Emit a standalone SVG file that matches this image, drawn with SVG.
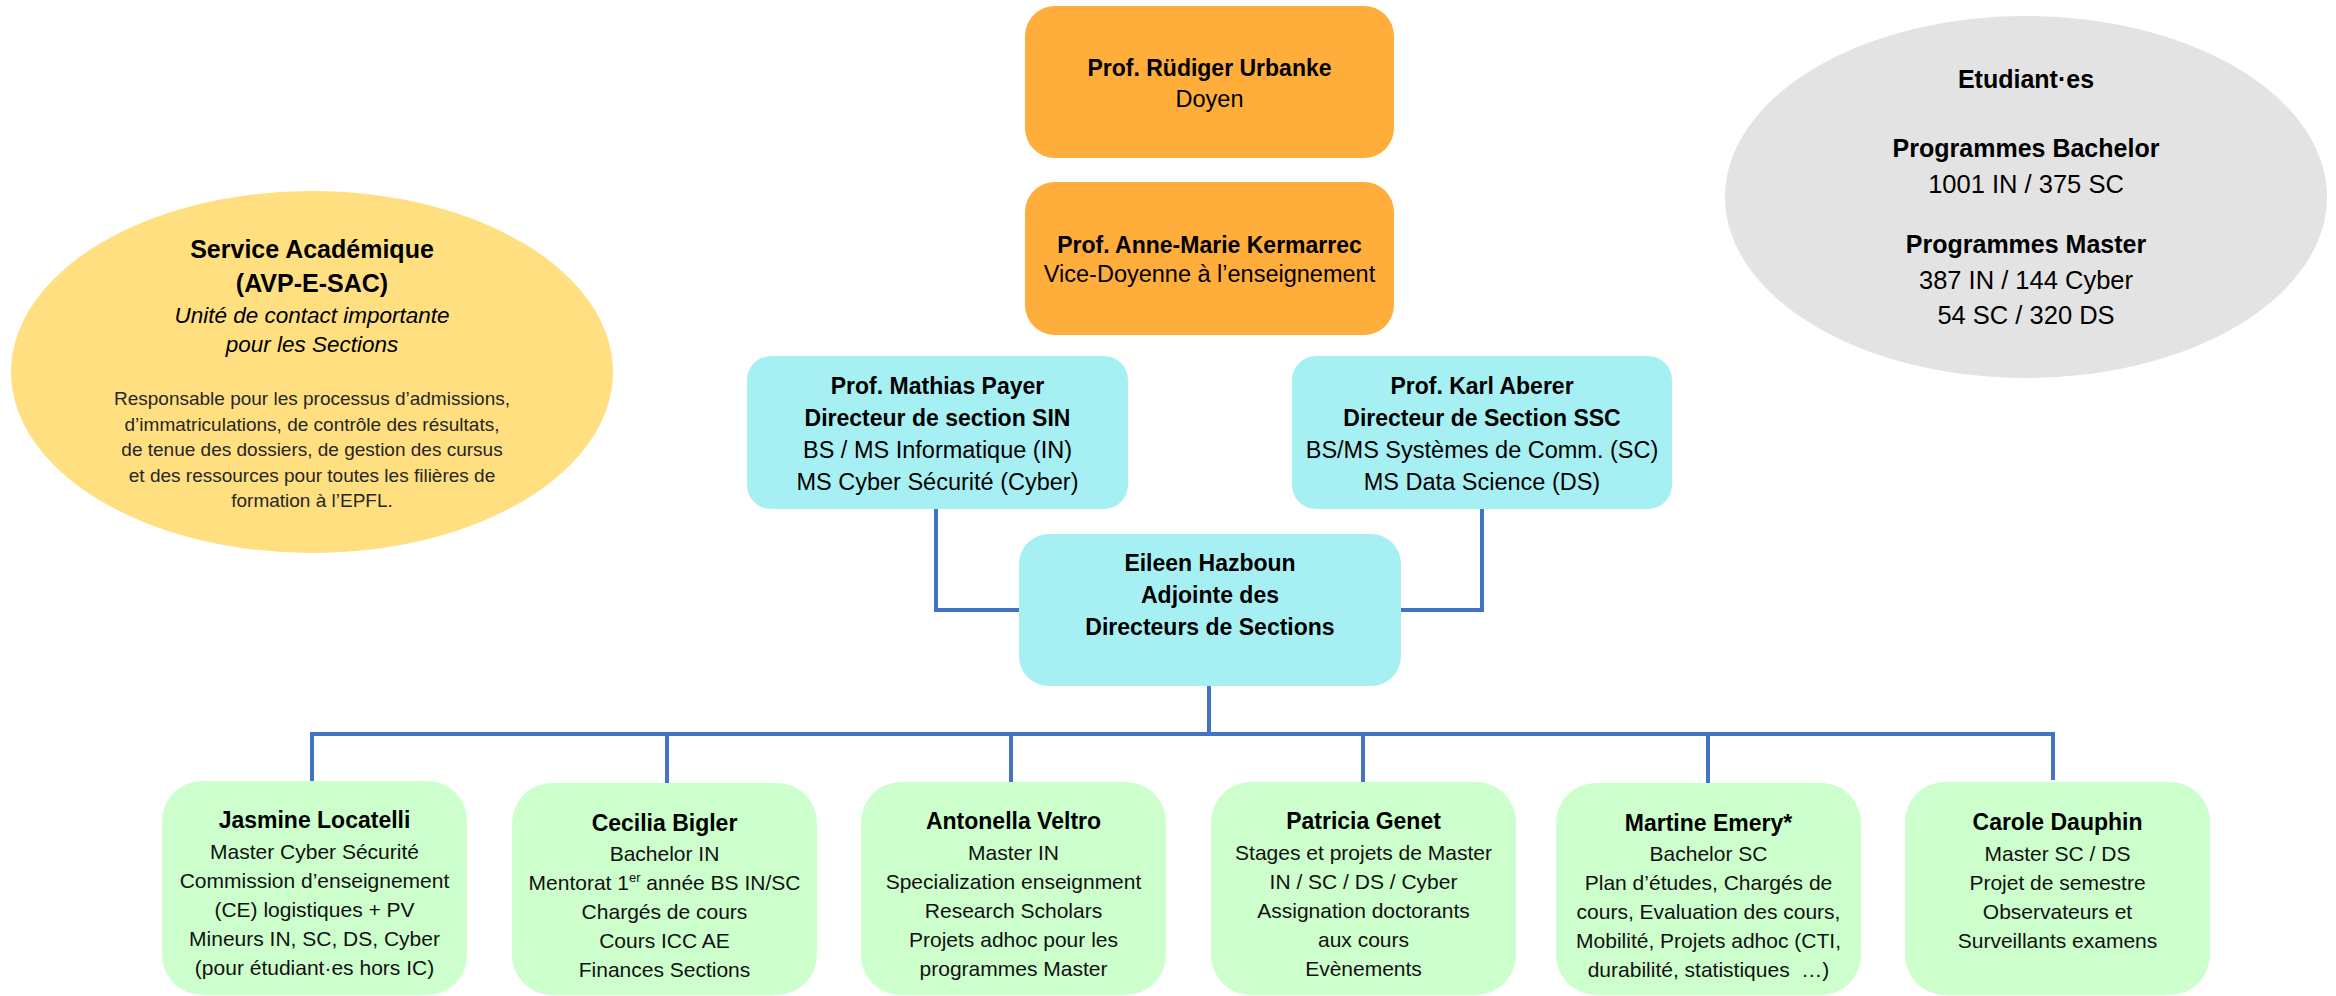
<svg xmlns="http://www.w3.org/2000/svg" width="2336" height="996" viewBox="0 0 2336 996">
<style>
text{font-family:"Liberation Sans",Arial,sans-serif;text-anchor:middle;fill:#000}
.top{font-size:23.5px}
.topb{font-size:23px;font-weight:bold}
.gb{font-size:23px;font-weight:bold}
.gt{font-size:21px;fill:#111}
.yb{font-size:25px;font-weight:bold}
.yi{font-size:22.5px;font-style:italic}
.ys{font-size:19px;fill:#262626}
.eb{font-size:25px;font-weight:bold}
.er{font-size:25.5px}
.org{fill:#FFAD3B}
.cyan{fill:#A6F0F4}
.grn{fill:#CCFFCC}
.conn{fill:none;stroke:#4472C4;stroke-width:4}
</style>
<rect width="2336" height="996" fill="#FFFFFF"/>

<g id="connectors">
<path class="conn" d="M936 509 V610 H1019"/>
<path class="conn" d="M1482 509 V610 H1401"/>
<path class="conn" d="M1209 686 V734"/>
<path class="conn" d="M312 781 V734 H2053 V780"/>
<path class="conn" d="M667 734 V783"/>
<path class="conn" d="M1011 734 V782"/>
<path class="conn" d="M1363 734 V782"/>
<path class="conn" d="M1708 734 V783"/>
</g>

<g id="service-academique">
<ellipse cx="312" cy="372" rx="301" ry="181" fill="#FFDF80"/>
<text class="yb" x="312" y="258">Service Académique</text>
<text class="yb" x="312" y="292">(AVP-E-SAC)</text>
<text class="yi" x="312" y="323">Unité de contact importante</text>
<text class="yi" x="312" y="352">pour les Sections</text>
<text class="ys" x="312" y="405">Responsable pour les processus d’admissions,</text>
<text class="ys" x="312" y="431">d’immatriculations, de contrôle des résultats,</text>
<text class="ys" x="312" y="456">de tenue des dossiers, de gestion des cursus</text>
<text class="ys" x="312" y="482">et des ressources pour toutes les filières de</text>
<text class="ys" x="312" y="507">formation à l’EPFL.</text>
</g>

<g id="etudiants">
<ellipse cx="2026" cy="197" rx="301" ry="181" fill="#E3E3E3"/>
<text class="eb" x="2026" y="88">Etudiant·es</text>
<text class="eb" x="2026" y="157">Programmes Bachelor</text>
<text class="er" x="2026" y="193">1001 IN / 375 SC</text>
<text class="eb" x="2026" y="253">Programmes Master</text>
<text class="er" x="2026" y="289">387 IN / 144 Cyber</text>
<text class="er" x="2026" y="324">54 SC / 320 DS</text>
</g>

<g id="doyen">
<rect class="org" x="1025" y="6" width="369" height="152" rx="30"/>
<text class="topb" x="1209.5" y="76">Prof. Rüdiger Urbanke</text>
<text class="top" x="1209.5" y="107">Doyen</text>
</g>

<g id="vice-doyenne">
<rect class="org" x="1025" y="182" width="369" height="153" rx="30"/>
<text class="topb" x="1209.5" y="253">Prof. Anne-Marie Kermarrec</text>
<text class="top" x="1209.5" y="282">Vice-Doyenne à l’enseignement</text>
</g>

<g id="payer">
<rect class="cyan" x="747" y="356" width="381" height="153" rx="24"/>
<text class="topb" x="937.5" y="394">Prof. Mathias Payer</text>
<text class="topb" x="937.5" y="426">Directeur de section SIN</text>
<text class="top" x="937.5" y="458">BS / MS Informatique (IN)</text>
<text class="top" x="937.5" y="490">MS Cyber Sécurité (Cyber)</text>
</g>

<g id="aberer">
<rect class="cyan" x="1292" y="356" width="380" height="153" rx="24"/>
<text class="topb" x="1482" y="394">Prof. Karl Aberer</text>
<text class="topb" x="1482" y="426">Directeur de Section SSC</text>
<text class="top" x="1482" y="458">BS/MS Systèmes de Comm. (SC)</text>
<text class="top" x="1482" y="490">MS Data Science (DS)</text>
</g>

<g id="hazboun">
<rect class="cyan" x="1019" y="534" width="382" height="152" rx="30"/>
<text class="topb" x="1210" y="571">Eileen Hazboun</text>
<text class="topb" x="1210" y="603">Adjointe des</text>
<text class="topb" x="1210" y="635">Directeurs de Sections</text>
</g>

<g id="locatelli">
<rect class="grn" x="162" y="781" width="305" height="214" rx="40"/>
<text class="gb" x="314.5" y="828">Jasmine Locatelli</text>
<text class="gt" x="314.5" y="859">Master Cyber Sécurité</text>
<text class="gt" x="314.5" y="888">Commission d’enseignement</text>
<text class="gt" x="314.5" y="917">(CE) logistiques + PV</text>
<text class="gt" x="314.5" y="946">Mineurs IN, SC, DS, Cyber</text>
<text class="gt" x="314.5" y="975">(pour étudiant·es hors IC)</text>
</g>

<g id="bigler">
<rect class="grn" x="512" y="783" width="305" height="212" rx="40"/>
<text class="gb" x="664.5" y="831">Cecilia Bigler</text>
<text class="gt" x="664.5" y="861">Bachelor IN</text>
<text class="gt" x="664.5" y="890">Mentorat 1<tspan dy="-8" style="font-size:13px">er</tspan><tspan dy="8"> année BS IN/SC</tspan></text>
<text class="gt" x="664.5" y="919">Chargés de cours</text>
<text class="gt" x="664.5" y="948">Cours ICC AE</text>
<text class="gt" x="664.5" y="977">Finances Sections</text>
</g>

<g id="veltro">
<rect class="grn" x="861" y="782" width="305" height="213" rx="40"/>
<text class="gb" x="1013.5" y="829">Antonella Veltro</text>
<text class="gt" x="1013.5" y="860">Master IN</text>
<text class="gt" x="1013.5" y="889">Specialization enseignment</text>
<text class="gt" x="1013.5" y="918">Research Scholars</text>
<text class="gt" x="1013.5" y="947">Projets adhoc pour les</text>
<text class="gt" x="1013.5" y="976">programmes Master</text>
</g>

<g id="genet">
<rect class="grn" x="1211" y="782" width="305" height="213" rx="40"/>
<text class="gb" x="1363.5" y="829">Patricia Genet</text>
<text class="gt" x="1363.5" y="860">Stages et projets de Master</text>
<text class="gt" x="1363.5" y="889">IN / SC / DS / Cyber</text>
<text class="gt" x="1363.5" y="918">Assignation doctorants</text>
<text class="gt" x="1363.5" y="947">aux cours</text>
<text class="gt" x="1363.5" y="976">Evènements</text>
</g>

<g id="emery">
<rect class="grn" x="1556" y="783" width="305" height="212" rx="40"/>
<text class="gb" x="1708.5" y="831">Martine Emery*</text>
<text class="gt" x="1708.5" y="861">Bachelor SC</text>
<text class="gt" x="1708.5" y="890">Plan d’études, Chargés de</text>
<text class="gt" x="1708.5" y="919">cours, Evaluation des cours,</text>
<text class="gt" x="1708.5" y="948">Mobilité, Projets adhoc (CTI,</text>
<text class="gt" x="1708.5" y="977" xml:space="preserve">durabilité, statistiques  …)</text>
</g>

<g id="dauphin">
<rect class="grn" x="1905" y="782" width="305" height="213" rx="40"/>
<text class="gb" x="2057.5" y="830">Carole Dauphin</text>
<text class="gt" x="2057.5" y="861">Master SC / DS</text>
<text class="gt" x="2057.5" y="890">Projet de semestre</text>
<text class="gt" x="2057.5" y="919">Observateurs et</text>
<text class="gt" x="2057.5" y="948">Surveillants examens</text>
</g>
</svg>
